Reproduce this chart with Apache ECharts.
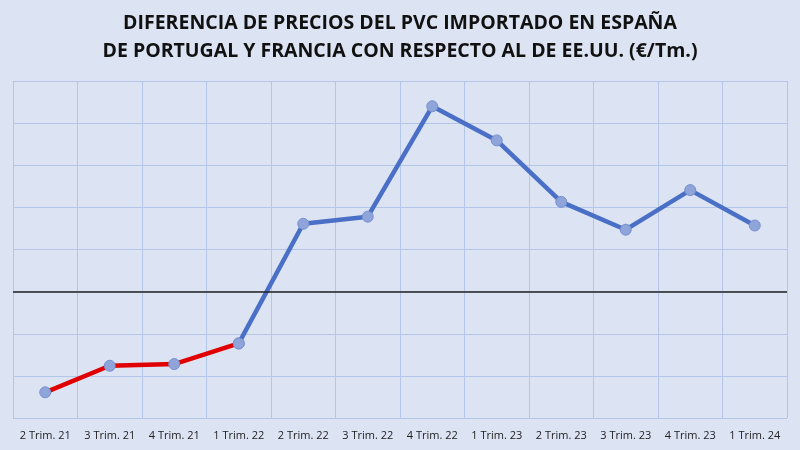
<!DOCTYPE html>
<html>
<head>
<meta charset="utf-8">
<script src="https://cdn.jsdelivr.net/npm/echarts@6/dist/echarts.min.js"></script>
<style>
  html, body { margin: 0; padding: 0; background: #dce3f3; }
  #chart { width: 800px; height: 450px; }
</style>
</head>
<body>
<div id="chart"></div>
<script>
// Datos (€/Tm., valores aproximados)
const trimestres = ['2 Trim. 21', '3 Trim. 21', '4 Trim. 21', '1 Trim. 22', '2 Trim. 22', '3 Trim. 22',
    '4 Trim. 22', '1 Trim. 23', '2 Trim. 23', '3 Trim. 23', '4 Trim. 23', '1 Trim. 24']
const tramoRojo = [-239, -176, -172, -123, null, null, null, null, null, null, null, null]
const tramoAzul = [null, null, null, -123, 161, 178, 440, 359, 213, 147, 241, 157]

const chart = echarts.init(document.getElementById('chart'))

const marcador = {
    color: '#8fa5da',
    borderColor: '#7690d0',
    borderWidth: 1
}

const option = {
    backgroundColor: '#dce3f3',
    animation: false,
    title: {
        text: 'DIFERENCIA DE PRECIOS DEL PVC IMPORTADO EN ESPAÑA\nDE PORTUGAL Y FRANCIA CON RESPECTO AL DE EE.UU. (€/Tm.)',
        left: 'center',
        top: 4,
        textStyle: {
            fontFamily: 'Open Sans',
            fontWeight: 'bold',
            fontSize: 19.5,
            lineHeight: 28,
            color: '#111'
        }
    },
    grid: { left: 13, right: 13, top: 81, bottom: 32 },
    xAxis: {
        type: 'category',
        data: trimestres,
        boundaryGap: true,
        axisLine: { show: false },
        axisTick: { show: false },
        axisLabel: {
            fontFamily: 'Open Sans',
            fontSize: 11,
            color: '#222',
            margin: 12,
            interval: 0
        },
        splitLine: {
            show: true,
            lineStyle: { color: '#b4c6e8', width: 1 }
        }
    },
    yAxis: {
        type: 'value',
        min: -300,
        max: 500,
        interval: 100,
        axisLabel: { show: false },
        axisLine: { show: false },
        axisTick: { show: false },
        splitLine: {
            lineStyle: { color: '#b4c6e8', width: 1 }
        }
    },
    series: [
        {
            type: 'line',
            data: tramoRojo,
            lineStyle: { color: '#e00000', width: 4.5 },
            symbol: 'circle',
            symbolSize: 11,
            itemStyle: marcador,
            markLine: {
                silent: true,
                symbol: 'none',
                label: { show: false },
                lineStyle: { color: '#222', width: 1.5, type: 'solid' },
                data: [{ yAxis: 0 }]
            },
            z: 3
        },
        {
            type: 'line',
            data: tramoAzul,
            lineStyle: { color: '#4a6fc6', width: 4.5 },
            symbol: 'circle',
            symbolSize: 11,
            itemStyle: marcador,
            z: 4
        }
    ]
}

chart.setOption(option)
</script>
</body>
</html>
